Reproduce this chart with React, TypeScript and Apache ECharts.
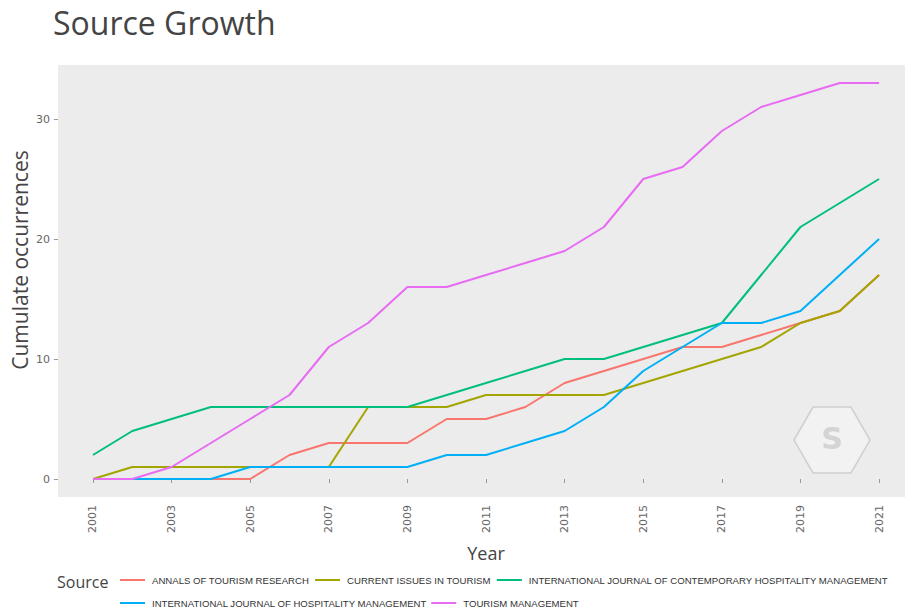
import React, { useEffect, useRef } from "react";
import * as echarts from "echarts";

const years = [2001, 2002, 2003, 2004, 2005, 2006, 2007, 2008, 2009, 2010, 2011, 2012, 2013, 2014, 2015, 2016, 2017, 2018, 2019, 2020, 2021];

const seriesNames = [
  "ANNALS OF TOURISM RESEARCH",
  "CURRENT ISSUES IN TOURISM",
  "INTERNATIONAL JOURNAL OF CONTEMPORARY HOSPITALITY MANAGEMENT",
  "INTERNATIONAL JOURNAL OF HOSPITALITY MANAGEMENT",
  "TOURISM MANAGEMENT",
];

const annals = [0, 0, 0, 0, 0, 2, 3, 3, 3, 5, 5, 6, 8, 9, 10, 11, 11, 12, 13, 14, 17];
const currentIssues = [0, 1, 1, 1, 1, 1, 1, 6, 6, 6, 7, 7, 7, 7, 8, 9, 10, 11, 13, 14, 17];
const ijchm = [2, 4, 5, 6, 6, 6, 6, 6, 6, 7, 8, 9, 10, 10, 11, 12, 13, 17, 21, 23, 25];
const ijhm = [0, 0, 0, 0, 1, 1, 1, 1, 1, 2, 2, 3, 4, 6, 9, 11, 13, 13, 14, 17, 20];
const tourismMgmt = [0, 0, 1, 3, 5, 7, 11, 13, 16, 16, 17, 18, 19, 21, 25, 26, 29, 31, 32, 33, 33];

const seriesValues = [annals, currentIssues, ijchm, ijhm, tourismMgmt];
const colors = ["#F8766D", "#A3A500", "#00BF7D", "#00B0F6", "#E76BF3"];

const xTickLabels = [2001, 2003, 2005, 2007, 2009, 2011, 2013, 2015, 2017, 2019, 2021];
const yTickLabels = [0, 10, 20, 30];

export default function App() {
  const ref = useRef<HTMLDivElement>(null);
  useEffect(() => {
    if (!ref.current) return;
    const chart = echarts.init(ref.current, undefined, { renderer: "svg" });
    const hexR = 38;
    const hcx = 832;
    const hcy = 440;
    const hexPts: number[][] = [];
    for (let i = 0; i < 6; i++) {
      const a = Math.PI / 6 + (i * Math.PI) / 3 - Math.PI / 2;
      hexPts.push([hcx + hexR * Math.cos(a), hcy + hexR * Math.sin(a)]);
    }
    const legendText = { fontSize: 9.6, color: "#333", fontFamily: "Liberation Sans", padding: [0, 0, 0, 2] };
    chart.setOption({
      animation: false,
      backgroundColor: "#ffffff",
      grid: {
        left: 58,
        right: 4,
        top: 65,
        bottom: 112,
        show: true,
        backgroundColor: "#ECECEC",
        borderWidth: 0,
      },
      xAxis: {
        type: "value",
        min: 2000.11,
        max: 2021.66,
        axisLine: { show: false },
        splitLine: { show: false },
        axisTick: {
          show: true,
          customValues: xTickLabels,
          length: 4,
          lineStyle: { color: "#999" },
        },
        axisLabel: {
          customValues: xTickLabels,
          rotate: 90,
          margin: 8,
          color: "#666",
          fontSize: 11,
          fontFamily: "DejaVu Sans",
          formatter: (v: number) => String(v),
        },
      },
      yAxis: {
        type: "value",
        min: -1.5,
        max: 34.5,
        axisLine: { show: false },
        splitLine: { show: false },
        axisTick: {
          show: true,
          customValues: yTickLabels,
          length: 4,
          lineStyle: { color: "#999" },
        },
        axisLabel: {
          customValues: yTickLabels,
          margin: 8,
          color: "#666",
          fontSize: 11,
          fontFamily: "DejaVu Sans",
        },
      },
      legend: [
        {
          data: seriesNames.slice(0, 3),
          left: 120,
          top: 575,
          width: 1400,
          padding: 0,
          orient: "horizontal",
          icon: "rect",
          itemWidth: 25,
          itemHeight: 2,
          itemGap: 6,
          textStyle: legendText,
        },
        {
          data: seriesNames.slice(3),
          left: 120,
          top: 598,
          width: 1000,
          padding: 0,
          orient: "horizontal",
          icon: "rect",
          itemWidth: 25,
          itemHeight: 2,
          itemGap: 4,
          textStyle: legendText,
        },
      ],
      graphic: [
        {
          type: "text",
          left: 53,
          top: 6,
          style: { text: "Source Growth", fontSize: 32, fill: "#444", fontFamily: "Open Sans" },
        },
        {
          type: "text",
          x: 20,
          y: 260,
          rotation: Math.PI / 2,
          style: {
            text: "Cumulate occurrences",
            fontSize: 21,
            fill: "#444",
            fontFamily: "Open Sans",
            align: "center",
            verticalAlign: "middle",
          },
        },
        {
          type: "text",
          x: 486,
          y: 553,
          style: {
            text: "Year",
            fontSize: 18,
            fill: "#444",
            fontFamily: "Open Sans",
            align: "center",
            verticalAlign: "middle",
          },
        },
        {
          type: "text",
          x: 57,
          y: 582,
          style: {
            text: "Source",
            fontSize: 16,
            fill: "#444",
            fontFamily: "Open Sans",
            align: "left",
            verticalAlign: "middle",
          },
        },
        {
          type: "polygon",
          shape: { points: hexPts },
          style: { fill: "rgba(255,255,255,0.3)", stroke: "#cfcfcf", lineWidth: 1.5 },
          z: 0,
        },
        {
          type: "text",
          x: hcx,
          y: hcy - 2,
          style: {
            text: "S",
            fontSize: 30,
            fontWeight: "bold",
            fill: "#d4d4d4",
            fontFamily: "DejaVu Sans",
            align: "center",
            verticalAlign: "middle",
          },
          z: 0,
        },
      ],
      series: seriesNames.map((name, i) => ({
        name,
        type: "line",
        data: years.map((y, j) => [y, seriesValues[i][j]]),
        showSymbol: false,
        symbol: "none",
        lineStyle: { width: 2, color: colors[i] },
        itemStyle: { color: colors[i] },
        z: 3,
      })),
    });
    return () => chart.dispose();
  }, []);
  return <div ref={ref} style={{ width: 909, height: 609, position: "absolute", left: 0, top: 0 }} />;
}
